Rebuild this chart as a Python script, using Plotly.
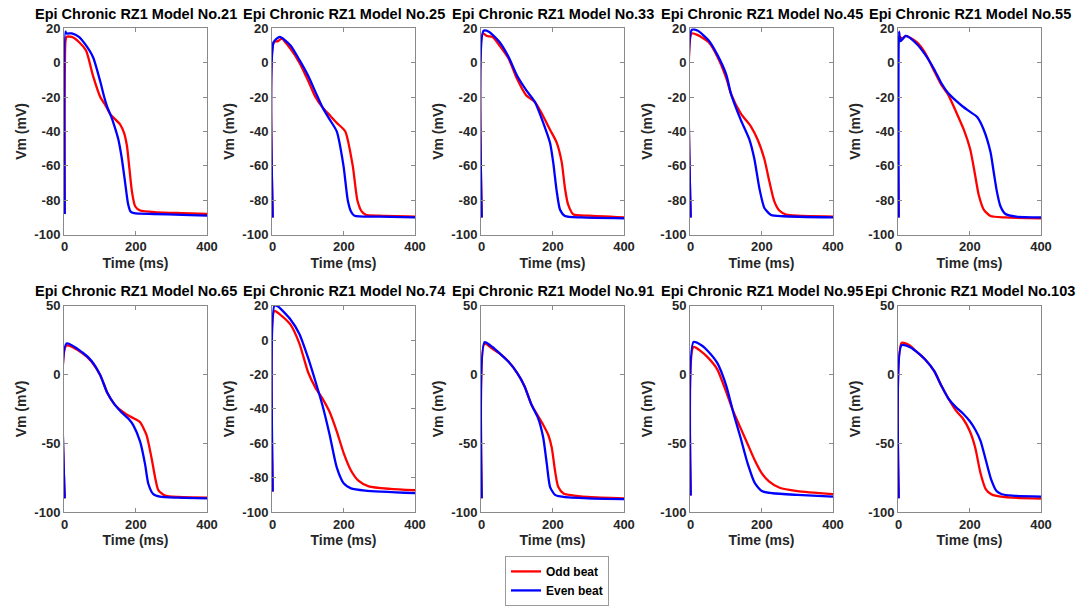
import plotly.graph_objects as go
from plotly.subplots import make_subplots

# ---------------- data ----------------
titles = ["Epi Chronic RZ1 Model No.21", "Epi Chronic RZ1 Model No.25", "Epi Chronic RZ1 Model No.33",
          "Epi Chronic RZ1 Model No.45", "Epi Chronic RZ1 Model No.55", "Epi Chronic RZ1 Model No.65",
          "Epi Chronic RZ1 Model No.74", "Epi Chronic RZ1 Model No.91", "Epi Chronic RZ1 Model No.95",
          "Epi Chronic RZ1 Model No.103"]

odd_t_21 = [0, 2, 5, 20, 40, 60, 80, 100, 115, 128, 156, 167, 175, 182, 189, 198, 212, 260, 330, 400]
odd_v_21 = [-88, 12, 15, 15, 12, 7, -8, -20, -25, -30, -36, -41, -48.5, -61.8, -75, -83.5, -86, -87, -87.5, -88]
even_t_21 = [0, 2, 5, 20, 40, 60, 80, 100, 111, 120, 130, 140, 150, 160, 170, 178, 185, 195, 250, 330, 400]
even_v_21 = [-88, 18, 17, 17, 15, 10, 3, -11, -20, -26, -31, -37, -44, -55, -70, -82, -86.5, -87.5, -88, -88.5, -89]

odd_t_25 = [0, 3, 15, 25, 50, 75, 100, 120, 140, 160, 180, 204, 225, 238, 250, 262, 300, 400]
odd_v_25 = [-90, 12, 12.5, 14, 8, 0, -10.7, -20, -26, -30.5, -35, -40, -60, -80, -86.5, -88.5, -89, -89.5]
even_t_25 = [0, 3, 20, 50, 75, 100, 120, 140, 160, 180, 199, 211, 220, 230, 300, 400]
even_v_25 = [-90, 12, 15, 10, 1.6, -7.8, -17, -26, -33, -40, -60, -80, -86.5, -89, -89.5, -90]

odd_t_33 = [0, 3, 15, 30, 50, 75, 100, 125, 150, 170, 192, 211, 225, 234, 243, 258, 300, 400]
odd_v_33 = [-90, 17, 15.5, 15, 10, 2.6, -9.7, -19, -23, -30, -39, -46.6, -58, -73, -82.6, -88.3, -89, -90]
even_t_33 = [0, 5, 20, 50, 75, 100, 125, 150, 173, 192, 201, 211, 220, 234, 280, 400]
even_v_33 = [-90, 18.5, 18, 12, 3.5, -7.8, -16, -23, -35, -46.6, -58, -75, -85.4, -89.2, -90, -90.5]

odd_t_45 = [0, 3, 20, 50, 75, 100, 113, 141, 169, 188, 207, 221, 235, 249, 268, 300, 400]
odd_v_45 = [-90, 17, 16, 12, 3.5, -9, -18, -29.6, -37, -44.7, -56, -69, -80.7, -86, -88.3, -89, -89.5]
even_t_45 = [0, 3, 20, 50, 75, 100, 113, 141, 165, 179, 193, 207, 226, 260, 400]
even_v_45 = [-90, 19, 18.5, 13, 4.5, -7, -18, -33.4, -44.7, -56, -73, -84.5, -88.6, -89.3, -90]

odd_t_55 = [0, 2, 10, 20, 50, 75, 100, 120, 140, 160, 183, 201, 215, 225, 239, 258, 300, 400]
odd_v_55 = [-90, 15, 14, 15.5, 12, 5.4, -5, -13, -19, -28, -39, -50.4, -65.6, -77, -85.4, -89.2, -90, -90.5]
even_t_55 = [0, 1, 5, 20, 50, 75, 100, 120, 140, 160, 180, 200, 220, 239, 258, 267, 276, 286, 300, 330, 400]
even_v_55 = [-90, 18, 12.5, 15.5, 11, 4.5, -4, -12, -18, -22, -25.5, -28.5, -31.5, -39, -52, -63.6, -75, -83.5, -88, -89.5, -90]

odd_t_65 = [0, 5, 50, 75, 100, 120, 140, 160, 180, 195, 212, 230, 244, 254, 263, 282, 320, 400]
odd_v_65 = [-90, 21, 15.5, 9.5, -0.5, -13.5, -21.7, -26.4, -30, -32, -34.7, -44, -60.5, -74.6, -84, -88, -89, -89.5]
even_t_65 = [0, 5, 50, 75, 100, 120, 140, 160, 180, 193, 212, 226, 235, 249, 268, 320, 400]
even_v_65 = [-90, 22.5, 16, 10, -0.5, -13.5, -21.7, -27.6, -32.4, -37, -48.8, -65.3, -79.4, -87, -88.8, -89.5, -90]

odd_t_74 = [0, 5, 20, 50, 75, 100, 120, 140, 160, 180, 200, 220, 240, 270, 330, 400]
odd_v_74 = [-88, 17, 15, 9, -2, -19, -27.6, -34, -41.8, -53, -66, -75.8, -81.5, -85, -86.5, -87.3]
even_t_74 = [0, 5, 15, 50, 75, 100, 120, 140, 160, 180, 200, 220, 260, 400]
even_v_74 = [-88, 20, 19.5, 12, 3.6, -10.6, -23.9, -38, -55, -74, -83.4, -86.2, -87.5, -89]

odd_t_91 = [0, 8, 30, 50, 75, 100, 120, 140, 158, 173, 187, 197, 206, 215, 230, 300, 400]
odd_v_91 = [-90, 22.4, 18.8, 15.3, 9.4, 1, -8.3, -22, -30, -36.7, -43.8, -53.3, -69.8, -81.6, -86.4, -89, -90]
even_t_91 = [0, 8, 30, 50, 75, 100, 120, 140, 159, 173, 183, 192, 206, 230, 300, 400]
even_v_91 = [-90, 23.5, 20, 15.5, 9.4, 1, -8.3, -22, -32, -46, -65, -81.6, -87.5, -89, -90, -90.5]

odd_t_95 = [0, 8, 30, 50, 75, 100, 120, 140, 160, 180, 200, 220, 250, 300, 400]
odd_v_95 = [-88, 20, 16.6, 11.9, 3.6, -12.8, -27, -38.8, -50.5, -62.3, -71.8, -77.6, -82.3, -84.7, -87]
even_t_95 = [0, 8, 30, 50, 75, 100, 120, 140, 160, 180, 200, 230, 300, 400]
even_v_95 = [-88, 23.6, 21.3, 16.6, 8.3, -8.2, -28, -45.8, -64.6, -78.8, -84.7, -86.3, -87.5, -88.7]

odd_t_103 = [0, 8, 30, 50, 75, 100, 120, 140, 160, 180, 200, 215, 230, 245, 260, 275, 320, 400]
odd_v_103 = [-90, 23, 21.3, 16.6, 10.7, 2.4, -8.2, -17.6, -25.9, -31.8, -41.2, -53, -71.8, -83.5, -87, -88.2, -89.5, -90.1]
even_t_103 = [0, 8, 30, 50, 75, 100, 120, 140, 160, 180, 200, 215, 230, 245, 260, 275, 290, 320, 400]
even_v_103 = [-90, 21.3, 20.1, 16.6, 10.7, 2.4, -8.2, -17.6, -23.5, -28.2, -34, -40, -48.2, -62.3, -76.4, -84.7, -87, -88, -88.7]

x_ticks = [0, 200, 400]
y_ticks_a = [-100, -80, -60, -40, -20, 0, 20]
y_ticks_b = [-100, -50, 0, 50]
y_range_a = [-100, 20]
y_range_b = [-100, 50]

series = [
    (odd_t_21, odd_v_21, even_t_21, even_v_21, "a"),
    (odd_t_25, odd_v_25, even_t_25, even_v_25, "a"),
    (odd_t_33, odd_v_33, even_t_33, even_v_33, "a"),
    (odd_t_45, odd_v_45, even_t_45, even_v_45, "a"),
    (odd_t_55, odd_v_55, even_t_55, even_v_55, "a"),
    (odd_t_65, odd_v_65, even_t_65, even_v_65, "b"),
    (odd_t_74, odd_v_74, even_t_74, even_v_74, "a"),
    (odd_t_91, odd_v_91, even_t_91, even_v_91, "b"),
    (odd_t_95, odd_v_95, even_t_95, even_v_95, "b"),
    (odd_t_103, odd_v_103, even_t_103, even_v_103, "b"),
]

# ---------------- layout geometry ----------------
W, H = 1090, 606
col_left = [64, 272, 481, 690, 898]
plot_w = 143
row_top = [29, 314]
plot_h = 212

FONT = "Liberation Sans, Arial, Helvetica, sans-serif"
AX_COLOR = "#8a8a8a"
TXT = "#262626"

fig = make_subplots(rows=2, cols=5)

for i, (ot, ov, et, ev, kind) in enumerate(series):
    r, c = i // 5 + 1, i % 5 + 1
    first = i == 0
    fig.add_trace(go.Scatter(x=ot, y=ov, mode="lines", name="<b>Odd beat</b>",
                             line=dict(color="#ff0000", width=2.3, shape="spline", smoothing=0.6),
                             showlegend=first, legendrank=1), row=r, col=c)
    fig.add_trace(go.Scatter(x=et, y=ev, mode="lines", name="<b>Even beat</b>",
                             line=dict(color="#0000ff", width=2.3, shape="spline", smoothing=0.6),
                             showlegend=first, legendrank=2), row=r, col=c)

annotations = []
for i, (_, _, _, _, kind) in enumerate(series):
    r, c = i // 5, i % 5
    x0 = col_left[c] / W
    x1 = (col_left[c] + plot_w) / W
    y1 = 1 - row_top[r] / H
    y0 = 1 - (row_top[r] + plot_h) / H
    sfx = "" if i == 0 else str(i + 1)
    yt = y_ticks_a if kind == "a" else y_ticks_b
    yr = y_range_a if kind == "a" else y_range_b
    fig.layout["xaxis" + sfx].update(
        domain=[x0, x1], range=[-2, 400], tickvals=x_ticks, ticktext=[str(v) for v in x_ticks],
        ticks="inside", ticklen=4, tickcolor=AX_COLOR, showline=True, linecolor=AX_COLOR, linewidth=1,
        mirror="allticks", showgrid=False, zeroline=False, automargin=False,
        tickfont=dict(family=FONT, size=13, color=TXT, weight="bold"),
        title=dict(text="<b>Time (ms)</b>", font=dict(family=FONT, size=14, color=TXT), standoff=4),
    )
    fig.layout["yaxis" + sfx].update(
        domain=[y0, y1], range=yr, tickvals=yt, ticktext=[str(v) for v in yt],
        ticks="inside", ticklen=4, tickcolor=AX_COLOR, showline=True, linecolor=AX_COLOR, linewidth=1,
        mirror="allticks", showgrid=False, zeroline=False, automargin=False,
        tickfont=dict(family=FONT, size=13, color=TXT, weight="bold"),
        title=dict(text="<b>Vm (mV)</b>", font=dict(family=FONT, size=14, color=TXT), standoff=4),
    )
    annotations.append(dict(
        text="<b>" + titles[i] + "</b>", xref="paper", yref="paper",
        x=(x0 + x1) / 2, y=1 - (row_top[r] - 15) / H, xanchor="center", yanchor="middle",
        showarrow=False, font=dict(family=FONT, size=14.5, color="#000000"),
    ))

fig.update_layout(
    width=W, height=H, margin=dict(l=0, r=0, t=0, b=0),
    paper_bgcolor="white", plot_bgcolor="white",
    annotations=annotations,
    showlegend=True,
    legend=dict(x=505 / W, y=1 - 571 / H, xanchor="left", yanchor="top",
                bgcolor="white", bordercolor="#9a9a9a", borderwidth=1,
                font=dict(family=FONT, size=12, color="#000000"),
                itemwidth=30, tracegroupgap=0),
)

fig.write_html("out.html")
